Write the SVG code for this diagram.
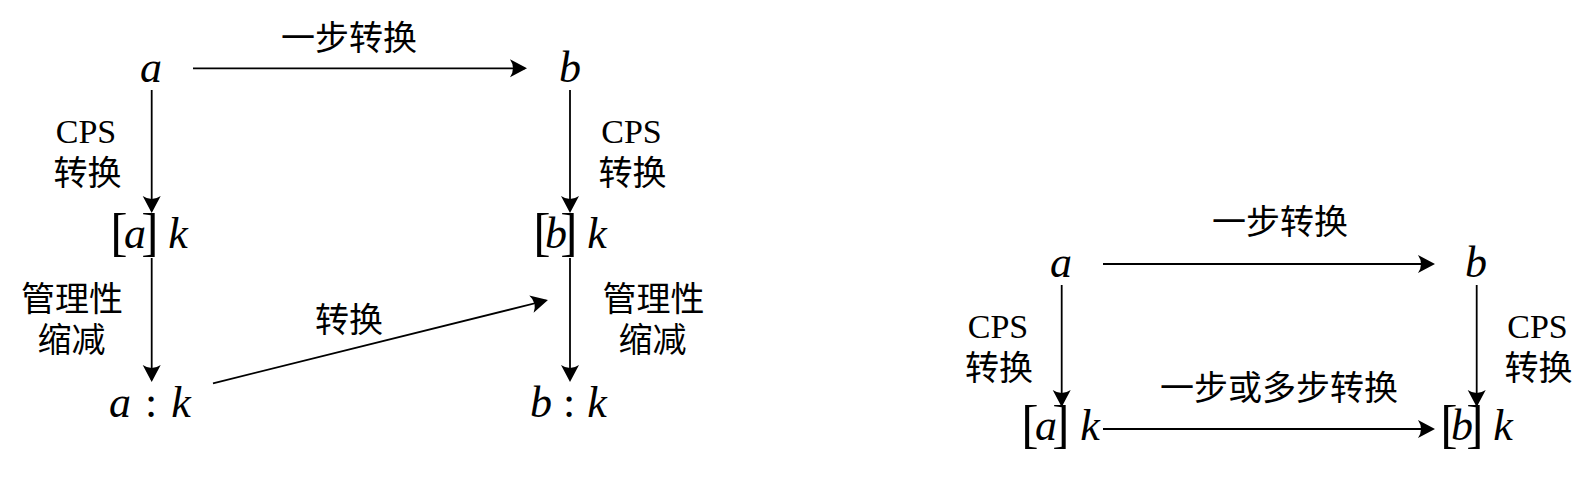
<svg xmlns="http://www.w3.org/2000/svg" width="1590" height="480" viewBox="0 0 1590 480">
<style>
.m{font-family:"Liberation Serif",serif;font-style:italic;font-size:44px;fill:#000;text-anchor:middle}
.br{font-style:normal;font-size:52px}
.up{font-style:normal}
.cps{font-family:"Liberation Serif",serif;font-size:34px;fill:#000;text-anchor:middle}
.zh{font-family:"Noto Sans CJK SC","Noto Sans",sans-serif;font-size:34px;fill:#000;text-anchor:middle}
.e{stroke:#000;stroke-width:1.8;fill:none;marker-end:url(#ah)}
</style>
<defs>
<marker id="ah" markerUnits="userSpaceOnUse" orient="auto" refX="-2" refY="0" markerWidth="20" markerHeight="20" overflow="visible">
<path d="M0,0 L-17,-9 Q-11,0 -17,9 Z" fill="#000"/>
</marker>
</defs>
<rect width="1590" height="480" fill="#fff"/>

<!-- Left diagram nodes -->
<g id="L_a"><text class="m" x="151" y="82">a</text></g>
<g id="L_b"><text class="m" x="570" y="82">b</text></g>
<g id="L_ak"><text class="m" y="248"><tspan class="br" x="119" y="250">[</tspan><tspan x="135" y="248">a</tspan><tspan class="br" x="150" y="250">]</tspan><tspan x="178" y="248">k</tspan></text></g>
<g id="L_bk"><text class="m" y="248"><tspan class="br" x="542" y="250">[</tspan><tspan x="556" y="248">b</tspan><tspan class="br" x="569" y="250">]</tspan><tspan x="597" y="248">k</tspan></text></g>
<g id="L_a_k"><text class="m" y="417"><tspan x="120">a</tspan><tspan class="up" x="151">:</tspan><tspan x="181">k</tspan></text></g>
<g id="L_b_k"><text class="m" y="417"><tspan x="541">b</tspan><tspan class="up" x="569">:</tspan><tspan x="597">k</tspan></text></g>

<!-- Right diagram nodes -->
<g id="R_a"><text class="m" x="1061" y="277">a</text></g>
<g id="R_b"><text class="m" x="1476" y="277">b</text></g>
<g id="R_ak"><text class="m" y="440"><tspan class="br" x="1030" y="442">[</tspan><tspan x="1046" y="440">a</tspan><tspan class="br" x="1061" y="442">]</tspan><tspan x="1090" y="440">k</tspan></text></g>
<g id="R_bk"><text class="m" y="440"><tspan class="br" x="1449" y="442">[</tspan><tspan x="1462" y="440">b</tspan><tspan class="br" x="1475" y="442">]</tspan><tspan x="1503" y="440">k</tspan></text></g>

<!-- Connectors -->
<g id="connectors">
<line class="e" x1="193" y1="68.3" x2="525" y2="68.3"/>
<line class="e" x1="151.7" y1="90" x2="151.7" y2="211"/>
<line class="e" x1="570" y1="90" x2="570" y2="211"/>
<line class="e" x1="151.7" y1="258" x2="151.7" y2="380"/>
<line class="e" x1="570" y1="258" x2="570" y2="380"/>
<line class="e" x1="213" y1="383.3" x2="546" y2="300.5"/>
<line class="e" x1="1103" y1="264" x2="1433" y2="264"/>
<line class="e" x1="1061.7" y1="285" x2="1061.7" y2="405"/>
<line class="e" x1="1476.7" y1="285" x2="1476.7" y2="405"/>
<line class="e" x1="1103" y1="429" x2="1433" y2="429"/>
</g>

<!-- Labels -->
<g id="labels">
<text class="zh" x="349" y="50">一步转换</text>
<text class="cps" x="86" y="143">CPS</text>
<text class="zh" x="87.5" y="185">转换</text>
<text class="cps" x="631.5" y="143">CPS</text>
<text class="zh" x="632.5" y="185">转换</text>
<text class="zh" x="72" y="311">管理性</text>
<text class="zh" x="71.5" y="352">缩减</text>
<text class="zh" x="653.5" y="311">管理性</text>
<text class="zh" x="652.5" y="352">缩减</text>
<text class="zh" x="349" y="332">转换</text>
<text class="zh" x="1280" y="234">一步转换</text>
<text class="cps" x="998" y="338">CPS</text>
<text class="zh" x="999" y="380">转换</text>
<text class="cps" x="1537.5" y="338">CPS</text>
<text class="zh" x="1538.5" y="380">转换</text>
<text class="zh" x="1279" y="400">一步或多步转换</text>
</g>
</svg>
